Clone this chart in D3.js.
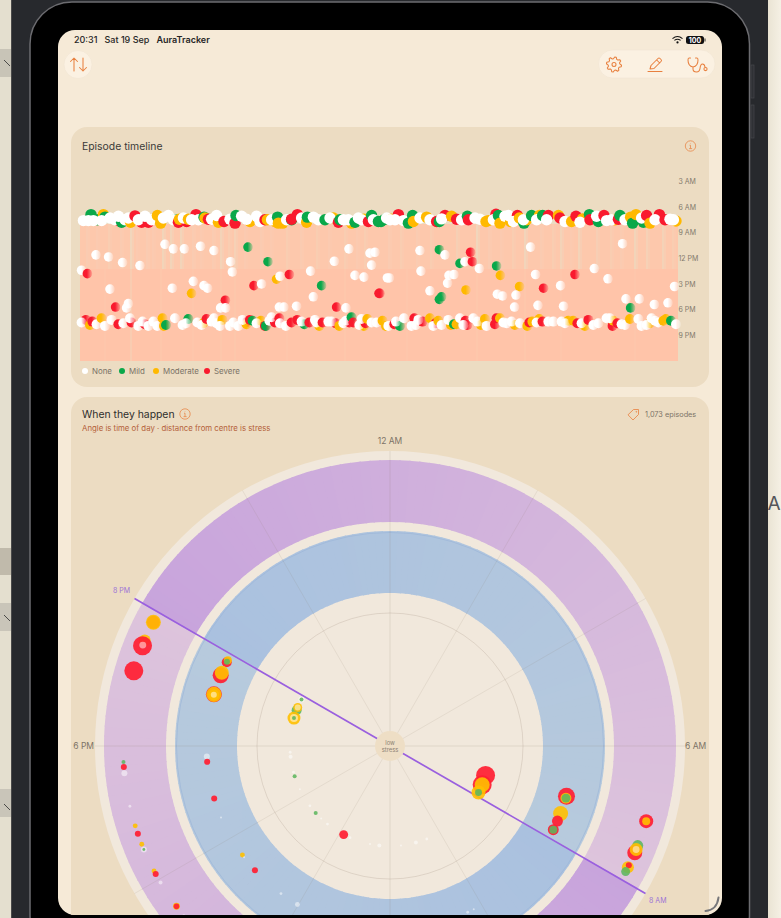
<!DOCTYPE html>
<html><head><meta charset="utf-8">
<script src="https://cdn.jsdelivr.net/npm/d3@7/dist/d3.min.js"></script>
<style>html,body{margin:0;padding:0;background:#e6e1d2;overflow:hidden}svg{display:block}text{font-family:Inter,"Noto Sans",sans-serif}</style>
</head><body><svg id="c" width="781" height="918" viewBox="0 0 781 918"></svg>
<script>
// ---------- Timeline episodes: [day, hour of day]
const noneEpisodes=[[1.7,7.6],[4.2,7.6],[6.7,7.6],[10.8,7.6],[15,7.3],[17.5,7.5],[19.2,7.1],[22.5,7.5],[24.2,7.3],[29.2,7.5],[32.5,7.1],[35.8,7.5],[41.7,7.3],[44.2,7],[46.7,7.5],[51.7,7.3],[55.8,7.5],[59.2,7.5],[65.8,7.45],[68.3,7],[75,7.45],[80.8,7.1],[83.3,7.45],[88.3,7.1],[90,7.7],[95.8,7.5],[103.3,7.5],[110.8,7.3],[116.7,7.2],[119.2,7.5],[125,7.3],[131.7,7.5],[134.2,7.5],[139.2,7.3],[140.8,7.5],[146.7,7.5],[155,7.5],[153.3,7.3],[157.5,7.5],[161.7,7.6],[170,7.3],[175,7.5],[180.8,7.4],[190.8,7.5],[197.5,7.3],[200,7.45],[206.7,7.5],[212.5,7.1],[214.2,7],[216.7,7.7],[221.7,7.5],[228.3,7.5],[233.3,7.5],[242.5,7.7],[250,7.8],[258.3,7.1],[263.3,7.6],[265.8,7.5],[272.5,7.5],[280.8,7.3],[287.5,7.5],[295,7.45],[296.7,7.5],
[42.5,10.37],[46.7,10.9],[52.2,10.9],[60.3,10.6],[67,11.1],[8,11.6],[14.3,11.85],[21.3,12.5],[30,12.85],[0.8,13.4],[75.3,12.4],[76.2,13.6],[127.2,12.35],[134.5,10.9],[145,11.4],[147.5,11.3],[145.8,12.8],[115.3,13.5],[137.5,14],[142,14.2],[153.7,14.3],[100,14.1],[90.8,15],[56.7,14.7],[62,15.2],[63.8,15.5],[46.2,15.5],[15,15.6],[116.7,16.5],[108.3,17.6],[99.7,17.7],[102,17.7],[133,17.8],[72.8,17.8],[70.3,17.8],[24.2,17.3],[23.3,17.8],
[170,11.1],[182.5,11.6],[225.3,10.7],[271.3,10.3],[192.5,12.4],[199.7,13.2],[170.5,13.5],[257.2,13.2],[227.8,13.9],[264,14.4],[154.7,14.3],[187,13.9],[184.5,14],[183.8,14.9],[175,15.8],[240.3,15.2],[297.3,15.3],[208.7,16.2],[211.3,16.4],[218,16.3],[273,16.75],[279.7,16.75],[287.2,17.4],[294,17.2],[217.3,17.7],[229,17.5],[241.8,17.6],
[0.8,19.5],[8.3,19.7],[12.5,19.9],[15.8,19.2],[21.7,19.6],[25,19],[29.2,19.9],[31.3,19.4],[34.2,19.9],[36.7,19.4],[38.7,19.9],[47.5,19],[51.3,19.8],[53,19.6],[58.7,19.5],[60.8,19.8],[65.8,19.4],[67,19],[68.3,19.6],[70,19.9],[75,19.9],[76.7,19.5],[79.2,19.9],[81.3,19.2],[88.3,19.6],[94.7,19.3],[95.8,18.9],[100,19.6],[103,19.9],[110.8,19.4],[117.5,19.2],[118.3,19.5],[124.2,19.4],[125.8,19.4],[131.7,19.6],[133,19.3],[139.7,19.8],[140.8,19.1],[145.8,19.5],[148.3,19.5],[154.2,19.9],
[158,19.4],[162,19],[165.8,19.9],[168,19.8],[169.2,19.2],[176.7,19.9],[180.8,19.8],[184.2,19.2],[190,19],[191.7,19.8],[196.7,19],[198.7,19.4],[203.3,19.9],[211.7,19.5],[213.3,19.6],[215.8,19.4],[220,19.6],[228.3,19.5],[234.2,19.4],[236.7,19.4],[240.8,19.4],[242.5,19.6],[250.8,19.6],[256.7,19.8],[259.2,19.6],[263.3,19],[265,19],[270.8,19.7],[272.5,19.8],[279.2,19.1],[280.8,19.9],[283.3,19.8],[285.8,19],[287.5,19.3],[289.2,19.5],[298,19.7]];
const mildEpisodes=[[5.5,6.9],[8.7,7.5],[12.5,7.2],[20.8,7.8],[47.5,7.5],[62,7.2],[78,7],[98.8,7.2],[105.8,7.5],[113.7,7.2],[122.5,7.5],[130,7.5],[137.5,7.8],[145.8,7],[149.2,7.7],[152.5,7.45],[150.5,7.7],[164.2,7.9],[166.3,7],[179.7,7.7],[193.7,7.1],[209.2,7],[222,7.9],[225.8,7],[231.3,7],[254.7,6.9],[259.2,7.7],[270,7],[276.3,7.9],[281.7,7.8],
[84,10.7],[94,12.4],[120.8,15.2],[179.7,11],[190,12.6],[208.3,12.9],[180.8,16.5],[179.7,16.8],[275.3,17.8],
[43,19.8],[54.2,19.1],[86.3,19.3],[93,19.9],[112.2,19.7],[135.8,18.9],[160,19.9],[187,19.7],[295.5,19.3]];
const moderateEpisodes=[[11.7,6.9],[25.3,7.8],[38.7,7],[40.3,7.9],[49.7,7.45],[54.2,7.45],[62.5,7.3],[69.2,7.8],[85,7.7],[93.7,7.5],[97.5,7.7],[99.2,7.9],[101.3,7.9],[113.3,7.8],[126.7,7.3],[135.8,7.9],[142,7.45],[155.8,7.45],[166.7,7.7],[173.3,7.2],[185.8,7.1],[203,7.7],[204.2,7.6],[210,7.9],[215.3,7.7],[219.7,7.3],[223.3,7.5],[229.7,7],[239.2,7],[245.8,7.7],[251.3,7.4],[267.5,7.5],[275.3,7.2],[278,6.9],[285,7.9],[298,7.65],
[98.3,14.45],[55.8,16.1],[210.2,14],[193,15.7],[219.8,15.3],
[5,19.8],[10.8,19],[41.3,19],[42,19.9],[61.7,19.6],[71.2,19.2],[83.3,19.7],[90.5,19.3],[119.7,19.9],[129.7,19.9],[142,19.9],[143.7,19.1],[151.3,19.3],[153,19.9],[175,19],[179.2,19.3],[185.5,19.8],[188.3,19.7],[200.5,19.8],[202.5,19.1],[210,19],[217.5,19.8],[223.7,19.9],[226.2,19.4],[229.7,19.1],[244.2,19.3],[246.7,19.3],[252.5,19.9],[266.7,19.3],[275,19.1],[285,19.6],[291.7,19.3],[293,19.1]];
const severeEpisodes=[[19.2,7.6],[27.5,7.05],[30.8,7.8],[34.2,7.8],[49.2,7.8],[53.3,7.7],[58,6.9],[64.2,7.45],[72,7.7],[77.5,7.9],[92.5,7.5],[108.7,6.9],[105.8,7.45],[129.2,7.8],[144.2,7.7],[159.2,6.9],[178.3,7.7],[182.5,7],[188.3,7.45],[194.2,7.5],[208,6.87],[218.7,7],[234.2,7],[240,7.3],[248,7.1],[255,7.5],[262,7],[269.2,7.45],[283.3,7],[289.7,6.9],[292.5,7.5],
[3.7,13.8],[104.7,13.9],[87,15.2],[149.5,16.1],[128.3,17.7],[72.7,16.9],[17.8,17.7],[195.3,11.3],[196.2,12.4],[247.5,13.9],[231.8,15.5],[150,16.1],
[3,19.2],[6.2,19.4],[19.2,19.7],[25.8,19.5],[32.5,19.7],[63.3,19.1],[83,19.5],[85,19.2],[92.5,19.9],[97.5,19.5],[99.7,19],[105.8,19.5],[108.7,19.2],[114.7,19.5],[121.3,19.5],[127.8,19.6],[134.7,19.5],[136.7,19.5],[142.8,19.6],[157.2,19.7],[167.2,19],[171.3,19.4],[177.8,19.6],[192.8,19.3],[193.7,19.8],[208.3,19],[207.5,19.7],[224.7,19.5],[231.3,19.4],[248.7,19.6],[254.2,19.2],[266.3,19.9],[268.7,19.6]];
// Days whose waking band is paler: [day, band opacity]
const upperBandGaps=[[25,.25],[41,.35],[45,.35],[50,.35],[70,.4],[77,.5],[3,.72],[8,.78],[14,.68],[20,.72],[28,.78],[33,.72],[36,.78],[56,.72],[60,.78],[66,.72],[74,.68],[82,.78],[90,.72],[95,.78],[103,.68],[110,.72],[118,.68],[124,.78],[132,.68],[138,.78],[142,.68],[198,.25],[222,.3],[240,.4],[249,.4],[258,.6],[277,.35],[283,.5],[291,.45],[154,.72],[160,.68],[168,.72],[175,.68],[188,.55],[204,.72],[210,.78],[216,.68],[230,.72],[236,.68],[245,.78],[265,.68],[270,.72],[296,.68]];
const lowerBandGaps=[[25,.7],[12,.93],[40,.92],[56,.93],[70,.9],[77,.9],[103,.93],[132,.92],[163,.93],[198,.92],[222,.92],[240,.93],[277,.93]];
const severityNames=["None","Mild","Moderate","Severe"];
const timeTicks=[3,6,9,12,15,18,21];
const timeTickLabels=["3 AM","6 AM","9 AM","12 PM","3 PM","6 PM","9 PM"];
// ---------- Radial episodes: [hour, stress level, episode weight, severity]
const radialEpisodes=[
[19.84,3,42,3],[19.84,3,56,2],[19.55,3,36,2],[19.47,3,90,3],[19.48,3,12,0],[19.09,3,90,3],
[19.81,2,25,3],[19.86,2,16,2],[19.82,2,9,1],[19.51,2,64,3],[19.57,2,49,2],[19.09,2,64,3],[19.09,2,58,2],[19.08,2,30,2],[19.08,2,9,0],
[19.85,1,9,0],[19.85,1,4,1],[19.4,1,25,1],[19.51,1,20,2],[19.51,1,9,0],[19.08,1,42,2],[19.08,1,16,0],[19.08,1,4,1],
[17.76,1,2,0],[17.59,1,4,0],[16.99,1,2,0],[16.83,1,4,1],[16.29,1,1,0],[15.55,1,2,0],[15.2,1,4,1],[14.9,1,1,0],[14.58,1,2,0],[13.84,1,20,3],[13.57,1,2,0],[12.77,1,1,0],[12.41,1,4,0],[11,1,4,0],[10.56,1,2,0],[11.58,1,1,0],
[17.78,2,9,0],[17.67,2,9,3],[16.89,2,9,3],[16.47,2,1,0],[15.57,2,6,2],[15.51,2,1,0],[15.16,2,9,3],[14.43,2,2,0],[14.02,2,6,0],[10.33,2,2,0],[10.19,2,1,0],
[7.06,2,72,3],[7.1,2,30,2],[7.1,2,20,1],[7.44,2,56,2],[7.61,2,30,3],[7.81,2,30,3],[7.81,2,16,1],
[7.14,1,90,3],[7.52,1,90,3],[7.52,1,56,2],[7.85,1,49,2],[7.85,1,12,1],
[7.09,3,49,3],[7.09,3,16,2],[7.46,3,30,1],[7.57,3,56,3],[7.52,3,42,2],[7.52,3,12,0],[7.8,3,36,2],[7.77,3,9,3],[7.87,3,20,1],
[17.77,3,4,1],[17.7,3,9,3],[17.61,3,9,0],[17.13,3,2,0],[16.84,3,6,2],[16.72,3,9,3],[16.56,3,6,2],[16.48,3,9,0],[16.48,3,2,1],[16.14,3,6,2],[16.09,3,9,3],[15.95,3,4,0],[15.54,3,12,2],[15.54,3,8,3],[15.37,3,2,0]];
const radialSpokes=[0,2,4,6,8,10,12,14,16,18,20,22];
const radialHourLabels=[[0,"12 AM"],[18,"6 PM"],[6,"6 AM"]];
const sleepHours=[20,8];

// ---------- Frame
const svg=d3.select("#c");
const defs=svg.append("defs");
const sevColor=["#ffffff","#0aa84a","#ffb900","#f91a2e"];
const radColor=["#ffffff","#5db65f","#ffc000","#ff1f33"];
const radOpacity=[.5,.88,.9,.93];
sevColor.forEach((c,i)=>{const g=defs.append("linearGradient").attr("id","fade"+i);
 g.append("stop").attr("offset","45%").attr("stop-color",c);
 g.append("stop").attr("offset","100%").attr("stop-color",c).attr("stop-opacity",.18);});
const stripG=defs.append("linearGradient").attr("id","rstrip");
stripG.append("stop").attr("offset","0").attr("stop-color","#e9e3d2");
stripG.append("stop").attr("offset","1").attr("stop-color","#f5f0e4");
defs.append("clipPath").attr("id","screen").append("rect").attr("x",58).attr("y",30).attr("width",664).attr("height",885).attr("rx",17);

svg.append("rect").attr("width",781).attr("height",918).attr("fill","#e4dfcf");
svg.append("rect").attr("x",767).attr("width",14).attr("height",918).attr("fill","url(#rstrip)");
[[49,28,"#c8c4b7"],[548,27,"#c0baab"],[603,28,"#c9c5b9"],[789,28,"#c9c5b9"]].forEach(b=>svg.append("rect").attr("y",b[0]).attr("width",11).attr("height",b[1]).attr("fill",b[2]));
[60,615,804].forEach(y=>svg.append("path").attr("d",`M4 ${y}L10 ${y+6}`).attr("stroke","#4a4a48").attr("stroke-width",1).attr("fill","none"));
svg.append("text").attr("x",767.5).attr("y",510).attr("font-size",19).attr("fill","#55565a").text("A");
svg.append("rect").attr("x",11).attr("y",-2).attr("width",757).attr("height",925).attr("fill","#27292d");
svg.append("rect").attr("x",11).attr("y",-2).attr("width",1).attr("height",925).attr("fill","#4a4a4a");
svg.append("rect").attr("x",30).attr("y",2).attr("width",719.5).attr("height",955).attr("rx",42).attr("fill","#000").attr("stroke","#6c6c70").attr("stroke-width",1.5);
[[65,33],[105,33]].forEach(b=>svg.append("rect").attr("x",751).attr("y",b[0]).attr("width",3).attr("height",b[1]).attr("fill","#2f3135").attr("stroke","#45474b").attr("stroke-width",.7));

const screen=svg.append("g").attr("clip-path","url(#screen)");
screen.append("rect").attr("x",58).attr("y",30).attr("width",664).attr("height",885).attr("fill","#f6ead7");

// status bar
const ink="#262626";
const txt=(g,x,y,s,size,fill,weight,anchor)=>g.append("text").attr("x",x).attr("y",y).attr("font-size",size).attr("fill",fill).attr("font-weight",weight||400).attr("text-anchor",anchor||"start").text(s);
txt(screen,74,43,"20:31",9,ink,500);
txt(screen,104.5,43,"Sat 19 Sep",9,ink,500);
txt(screen,156.5,43,"AuraTracker",9,ink,600);
const wifi=screen.append("g").attr("fill","none").attr("stroke","#111").attr("stroke-width",1.1);
wifi.append("path").attr("d","M672.5 38.6Q677.5 34.5 682.5 38.6");
wifi.append("path").attr("d","M674.4 40.4Q677.5 38 680.6 40.4");
screen.append("circle").attr("cx",677.5).attr("cy",42.4).attr("r",1.1).attr("fill","#111");
screen.append("rect").attr("x",686).attr("y",36).attr("width",18).attr("height",8).attr("rx",2.5).attr("fill","#111");
screen.append("rect").attr("x",704.5).attr("y",38.5).attr("width",1).attr("height",3).attr("fill","#333");
txt(screen,695,42.6,"100",7,"#fff",700,"middle");

// toolbar
const orange="#e8803f";
screen.append("circle").attr("cx",78).attr("cy",64.5).attr("r",14).attr("fill","#fbf1e2").attr("stroke","#efe3d0").attr("stroke-width",.5);
screen.append("rect").attr("x",598.5).attr("y",50).attr("width",116.5).attr("height",28).attr("rx",14).attr("fill","#fbf1e2").attr("stroke","#efe3d0").attr("stroke-width",.5);
const icons=screen.append("g").attr("fill","none").attr("stroke",orange).attr("stroke-width",1.05).attr("stroke-linecap","round").attr("stroke-linejoin","round");
icons.append("path").attr("d","M74 71V58M70.5 61.5L74 58L77.5 61.5M83 58V71M79.5 67.5L83 71L86.5 67.5");
icons.append("circle").attr("cx",614).attr("cy",64.5).attr("r",2);
const gearR=[7.6,7.6,5.8,5.8];
icons.append("path").attr("transform","translate(614,64.5)")
 .attr("d",d3.lineRadial().angle((d,i)=>i/32*2*Math.PI+.1).radius((d,i)=>gearR[i%4]).curve(d3.curveLinearClosed)(d3.range(32)));
icons.append("path").attr("d","M650 69L651 65.5L658 58.5Q659 57.5 660 58.5L661 59.5Q662 60.5 661 61.5L654 68.5ZM656.7 60L659.7 63M648 71.4H662");
icons.append("path").attr("d","M690.5 58H689Q688 58 688 60Q688 66 693 67Q698 66 698 60Q698 58 697 58H695.5M693 67V69Q693 72 696.5 72Q699.5 72 700 68.5Q700.5 64 702.5 64Q704.5 64 705 67");
icons.append("circle").attr("cx",705.5).attr("cy",69).attr("r",1.6);

// cards
const cards=[[127,260],[397,540]];
cards.forEach(c=>screen.append("rect").attr("x",71).attr("y",c[0]).attr("width",638).attr("height",c[1]).attr("rx",16).attr("fill","#ecdcc2"));
const info=(cx,cy)=>{const g=screen.append("g").attr("fill","none").attr("stroke",orange).attr("stroke-width",.8).attr("opacity",.9);
 g.append("circle").attr("cx",cx).attr("cy",cy).attr("r",5.2);
 g.append("path").attr("d",`M${cx-1} ${cy-.8}H${cx}V${cy+2.6}M${cx-1.4} ${cy+2.6}H${cx+1.6}M${cx} ${cy-2.6}V${cy-2.2}`);};
info(690.5,146);info(185,414);
txt(screen,82,150,"Episode timeline",10.4,"#3a3a38");
txt(screen,82,418,"When they happen",10.4,"#2e2e2c");
txt(screen,82,431,"Angle is time of day · distance from centre is stress",7.8,"#b4613a");
txt(screen,645,417,"1,073 episodes",7.3,"#7c7468");
const tag=screen.append("g").attr("fill","none").attr("stroke",orange).attr("stroke-width",.8);
tag.append("path").attr("d","M633.5 409.5L638.5 409.5L638.5 414.5L633 420L628 414.8Z");
tag.append("circle").attr("cx",636.3).attr("cy",411.8).attr("r",.4);

// ---------- Timeline
const x=d3.scaleLinear().domain([0,299]).range([80,678]);
const y=d3.scaleLinear().domain([0,24]).range([155.5,361]);
const bandTop=8,bandSplit=13.25,bandBottom=24,dayW=x(1)-x(0);
const upperBase=.9;
const upperOp=new Map();
upperBandGaps.forEach(g=>{upperOp.set(g[0]+1,(g[1]+upperBase)/2);});
upperBandGaps.forEach(g=>{upperOp.set(g[0],g[1]);});
const lowerOp=new Map(lowerBandGaps);
const days=d3.range(299);
const bands=screen.append("g").attr("shape-rendering","crispEdges");
bands.selectAll("rect.u").data(days).join("rect").attr("class","u").attr("x",d=>x(d)).attr("width",dayW+.05)
 .attr("y",y(bandTop)).attr("height",y(bandSplit)-y(bandTop)).attr("fill","#ffc5aa").attr("opacity",d=>upperOp.has(d)?upperOp.get(d):upperBase);
bands.selectAll("rect.l").data(days).join("rect").attr("class","l").attr("x",d=>x(d)).attr("width",dayW+.05)
 .attr("y",y(bandSplit)).attr("height",y(bandBottom)-y(bandSplit)).attr("fill","#ffc4a9").attr("opacity",d=>lowerOp.has(d)?lowerOp.get(d):1);

const episodes=d3.sort([noneEpisodes,mildEpisodes,moderateEpisodes,severeEpisodes].flatMap((a,s)=>a.map(e=>({day:e[0],hour:e[1],sev:s}))),d=>d.day-(d.sev?2.5:0));
screen.append("g").selectAll("circle").data(episodes).join("circle")
 .attr("cx",d=>x(d.day)).attr("cy",d=>y(d.hour)).attr("r",d=>d.hour<9?5.7:(d.hour>18.5?5:4.8))
 .attr("fill",d=>d.hour<9?sevColor[d.sev]:`url(#fade${d.sev})`);

const yAxis=d3.axisRight(y).tickValues(timeTicks).tickFormat((d,i)=>timeTickLabels[i]).tickSize(0).tickPadding(.5);
const yg=screen.append("g").attr("transform","translate(678,0)").call(yAxis);
yg.select(".domain").remove();
yg.selectAll("text").attr("font-size",7).attr("fill","#837a6c").style("font-family","Inter,sans-serif");

[85,122,156,207].forEach((lx,i)=>{
 screen.append("circle").attr("cx",lx).attr("cy",371).attr("r",3).attr("fill",sevColor[i]);
 txt(screen,lx+7,373.8,severityNames[i],7.9,"#7a7266");
});

// ---------- Radial
const cx=390,cy=746;
const angle=d3.scaleLinear().domain([0,24]).range([0,2*Math.PI]);
const stress=d3.scaleLinear().domain([0,3]).range([16.5,267]);
const dotR=d3.scaleSqrt().domain([0,100]).range([0,10]);
const polar=screen.append("g").attr("transform",`translate(${cx},${cy})`);
polar.append("circle").attr("r",295).attr("fill","#f1e8dc");
const ringSteps=d3.range(0,360,2);
const arc=d3.arc();
const ringSeg=(inner,outer,dark,light)=>{
 const col=d3.interpolateRgb(dark,light);
 polar.append("g").selectAll("path").data(ringSteps).join("path")
  .attr("d",d=>arc({innerRadius:inner,outerRadius:outer,startAngle:(d-.15)*Math.PI/180,endAngle:(d+2.15)*Math.PI/180}))
  .attr("fill",d=>col((((d+1-300+360)%360)%180)/180));
};
ringSeg(224,286,"#c8a4dc","#ddc4dc");
ringSeg(153,215,"#aac1df","#b7cadd");
polar.append("circle").attr("r",213.5).attr("fill","none").attr("stroke","#9db6d8").attr("stroke-width",1).attr("opacity",.7);
polar.append("circle").attr("r",133).attr("fill","none").attr("stroke","#8a7a66").attr("stroke-width",.7).attr("opacity",.28);
polar.append("g").selectAll("line").data(radialSpokes).join("line")
 .attr("x1",d=>15*Math.sin(angle(d))).attr("y1",d=>-15*Math.cos(angle(d)))
 .attr("x2",d=>295*Math.sin(angle(d))).attr("y2",d=>-295*Math.cos(angle(d)))
 .attr("stroke","#8a7a66").attr("stroke-width",.7).attr("opacity",d=>d%6==0?.22:.17);
polar.append("line")
 .attr("x1",295*Math.sin(angle(sleepHours[0]))).attr("y1",-295*Math.cos(angle(sleepHours[0])))
 .attr("x2",295*Math.sin(angle(sleepHours[1]))).attr("y2",-295*Math.cos(angle(sleepHours[1])))
 .attr("stroke","#9a5fdf").attr("stroke-width",1.7);
polar.append("g").selectAll("circle").data(radialEpisodes).join("circle")
 .attr("cx",d=>stress(d[1])*Math.sin(angle(d[0]))).attr("cy",d=>-stress(d[1])*Math.cos(angle(d[0])))
 .attr("r",d=>dotR(d[2])).attr("fill",d=>radColor[d[3]]).attr("fill-opacity",d=>radOpacity[d[3]]);
polar.append("circle").attr("r",15).attr("fill","#eedec5");
txt(polar,0,-1,"low",5.8,"#8b8173",400,"middle");
txt(polar,0,6,"stress",5.8,"#8b8173",400,"middle");
radialHourLabels.forEach(l=>{
 const h=l[0];
 if(h==0) txt(polar,0,-302,l[1],8.5,"#7c7367",400,"middle");
 else if(h==18) txt(polar,-296,3,l[1],8.5,"#7c7367",400,"end");
 else txt(polar,295,3,l[1],8.5,"#7c7367");
});
txt(polar,-260,-153,"8 PM",7,"#9c73d6",400,"end");
txt(polar,259,157,"8 AM",7,"#9c73d6");

// home corner indicator
svg.append("path").attr("d","M705.5 911Q717 910 718.5 897.5").attr("fill","none").attr("stroke","#77777a").attr("stroke-width",2).attr("stroke-linecap","round");
</script></body></html>
